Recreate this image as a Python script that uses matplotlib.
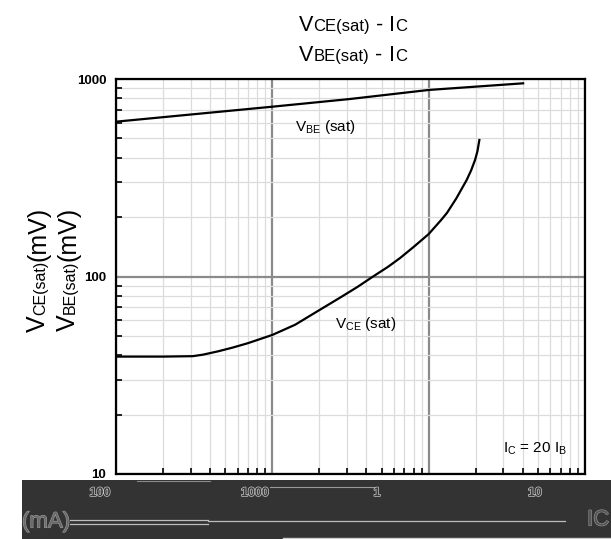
"""
VCE(sat) / VBE(sat) vs IC chart
"""

import matplotlib
matplotlib.use("Agg")
import matplotlib.pyplot as plt
import matplotlib.patheffects as pe
from matplotlib.patches import Rectangle
from matplotlib.lines import Line2D
from matplotlib.ticker import LogLocator, NullFormatter, FixedLocator, FixedFormatter

# data (IC in mA, voltages in mV)
ic_vbe = [0.1, 1.0, 3.14, 10.0, 40.2]
vbe_sat = [608, 724, 792, 880, 951]

ic_vce = [0.1, 0.2, 0.31, 0.36, 0.45, 0.56, 0.7, 1.0, 1.4, 1.92, 2.7, 3.5, 4.41, 5.5,
          6.56, 8.0, 10.0, 12.0, 13.1, 15.0, 17.5, 18.7, 19.8, 20.5, 21.1]
vce_sat = [39.3, 39.3, 39.5, 40.2, 41.8, 43.7, 46.0, 50.6, 57.0, 66.3, 78.0, 88.5, 100,
           112, 124, 141, 164, 193, 210, 248, 308, 345, 389, 430, 491]

y_ticks = [10, 100, 1000]
y_tick_labels = ["10", "100", "1000"]
band_labels = ["100", "1000", "1", "10"]

W, H = 611, 539
FONT = "Liberation Sans"

plt.rcParams["font.family"] = [FONT, "DejaVu Sans"]
plt.rcParams["mathtext.fontset"] = "custom"
plt.rcParams["mathtext.rm"] = FONT
plt.rcParams["mathtext.it"] = FONT

fig = plt.figure(figsize=(W / 100, H / 100), dpi=100)
ax = fig.add_axes([116 / W, 1 - 474 / H, (585 - 116) / W, (474 - 79) / H])


def fx(px):
    return px / W


def fy(py):
    return 1 - py / H


def piece_text(x, y, pieces, rotation=0, color="black"):
    """draw text made of pieces with different sizes, baseline centred at pixel (x, y)"""
    r = fig.canvas.get_renderer()
    widths = []
    for s, size, gap in pieces:
        t = fig.text(0, 0, s, fontsize=size)
        widths.append(t.get_window_extent(r).width + gap)
        t.remove()
    pos = -sum(widths) / 2
    for (s, size, gap), w in zip(pieces, widths):
        if rotation == 0:
            px, py = x + pos + gap, y
        else:
            px, py = x, y - pos - gap
        fig.text(fx(px), fy(py), s, fontsize=size, rotation=rotation,
                 ha="left", va="baseline", rotation_mode="anchor", color=color)
        pos += w


# curves
ax.plot(ic_vbe, vbe_sat, color="black", lw=1.6, zorder=5)
ax.plot(ic_vce, vce_sat, color="black", lw=1.6, zorder=5)

ax.set_xscale("log")
ax.set_yscale("log")
ax.set_xlim(0.1, 100)
ax.set_ylim(10, 1000)

ax.xaxis.set_minor_locator(LogLocator(base=10, subs=range(2, 10)))
ax.yaxis.set_minor_locator(LogLocator(base=10, subs=range(2, 10)))
ax.xaxis.set_major_formatter(NullFormatter())
ax.xaxis.set_minor_formatter(NullFormatter())
ax.yaxis.set_major_locator(FixedLocator(y_ticks))
ax.yaxis.set_major_formatter(FixedFormatter(y_tick_labels))
ax.yaxis.set_minor_formatter(NullFormatter())

ax.grid(which="minor", color="#dcdcdc", lw=0.9)
ax.grid(which="major", color="#8a8a8a", lw=1.6)
ax.set_axisbelow(True)

ax.tick_params(which="both", direction="in", top=False, right=False)
ax.tick_params(which="major", length=0, pad=7)
ax.tick_params(which="minor", length=4, width=1.2, color="black")
for lab in ax.get_yticklabels():
    lab.set_fontweight("bold")
    lab.set_fontsize(9.5)

for sp in ax.spines.values():
    sp.set_linewidth(1.6)
    sp.set_color("black")

# curve labels
fig.text(fx(295), fy(131), r"V$_{\mathregular{BE}}$ (sat)", fontsize=11, va="baseline")
fig.text(fx(335), fy(328), r"V$_{\mathregular{CE}}$ (sat)", fontsize=11, va="baseline")
fig.text(fx(503), fy(453), r"I$_{\mathregular{C}}$ = 20 I$_{\mathregular{B}}$", fontsize=11, va="baseline")

# title (two lines, big + small letters)
piece_text(353, 31, [("V", 15.5, 0), ("CE(sat)", 12, 0), ("-", 15.5, 6), ("I", 15.5, 6), ("C", 12, 0)])
piece_text(353, 61, [("V", 15.5, 0), ("BE(sat)", 12, 0), ("-", 15.5, 6), ("I", 15.5, 6), ("C", 12, 0)])

# y label (two rotated lines)
piece_text(45, 269, [("V", 18, 0), ("CE(sat)", 11.5, 0), ("(mV)", 18, 0)], rotation=90)
piece_text(75, 269, [("V", 18, 0), ("BE(sat)", 11.5, 0), ("(mV)", 18, 0)], rotation=90)

# dark band at the bottom with the x axis texts
fig.add_artist(Rectangle((fx(22), 0), 1 - fx(22), fy(480), transform=fig.transFigure,
                         facecolor="#333333", edgecolor="none", zorder=10))
fig.add_artist(Line2D([fx(283), 1], [fy(537.5)] * 2, color="#cfcfcf", lw=1, zorder=11))
fig.add_artist(Line2D([fx(270), fx(375)], [fy(487)] * 2, color="#9a9a9a", lw=0.8, zorder=11))
fig.add_artist(Line2D([fx(137), fx(210)], [fy(481)] * 2, color="#8a8a8a", lw=0.8, zorder=11))
fig.add_artist(Line2D([fx(70), fx(208)], [fy(519.5)] * 2, color="#bdbdbd", lw=0.9, zorder=11))
fig.add_artist(Line2D([fx(70), fx(208)], [fy(523.5)] * 2, color="#bdbdbd", lw=0.9, zorder=11))
fig.add_artist(Line2D([fx(208), fx(565)], [fy(520.7)] * 2, color="#bdbdbd", lw=0.9, zorder=11))

outline = [pe.withStroke(linewidth=1.0, foreground="#c8c8c8")]
for lab, px in zip(band_labels, [100, 255, 377, 535]):
    fig.text(fx(px), fy(493), lab, fontsize=9, fontweight="bold", color="#3a3a3a",
             ha="center", va="center", zorder=12, path_effects=outline)
fig.text(fx(22), fy(522), "(mA)", fontsize=16, color="#6a6a6a", ha="left", va="center",
         zorder=12, path_effects=[pe.withStroke(linewidth=0.8, foreground="#9a9a9a")])
fig.text(fx(587), fy(520), "IC", fontsize=16, color="#555555", ha="left", va="center",
         zorder=12, path_effects=[pe.withStroke(linewidth=0.8, foreground="#9a9a9a")])

fig.savefig("out.png", dpi=100)
